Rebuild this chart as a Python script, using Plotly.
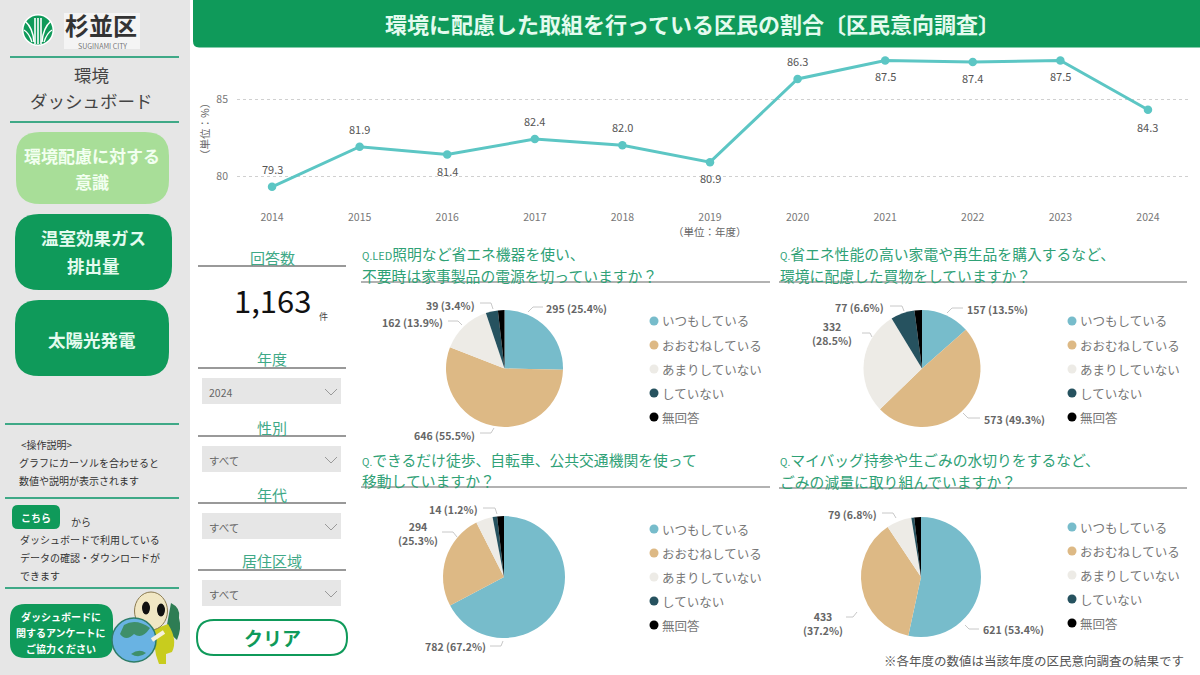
"""plot.py - Suginami environment dashboard, survey page."""
import plotly.graph_objects as go

W, H = 1200, 675
FONT = "Noto Sans CJK JP"

COL = {
    "green": "#0F9A5A", "pale": "#A8DE98", "rule": "#3FA987", "side": "#E6E6E6",
    "grey": "#999999", "ink": "#444444", "muted": "#777777", "q": "#2FA176",
    "line": "#5CC6C4", "btn_text": "#E4FBEF",
}

# line chart
YEARS = [2014, 2015, 2016, 2017, 2018, 2019, 2020, 2021, 2022, 2023, 2024]
RATE = [79.3, 81.9, 81.4, 82.4, 82.0, 80.9, 86.3, 87.5, 87.4, 87.5, 84.3]
RATE_SHIFT = [18, 18, -17, 18, 18, -16, 18, -16, -16, -16, -17]

# pies
ANSWERS = ["いつもしている", "おおむねしている", "あまりしていない", "していない", "無回答"]
SLICE_COLORS = ["#77BCCB", "#DDB985", "#EDEBE6", "#26525F", "#000000"]
Q1_COUNT = [295, 646, 162, 39, 21]
Q1_PCT = [25.4, 55.5, 13.9, 3.4, 1.8]
Q2_COUNT = [157, 573, 332, 77, 24]
Q2_PCT = [13.5, 49.3, 28.5, 6.6, 2.1]
Q3_COUNT = [782, 294, 52, 14, 21]
Q3_PCT = [67.2, 25.3, 4.5, 1.2, 1.8]
Q4_COUNT = [621, 433, 79, 9, 21]
Q4_PCT = [53.4, 37.2, 6.8, 0.8, 1.8]

fig = go.Figure()
shapes, notes = [], []


def px(x):
    return x / W


def py(y):
    return 1 - y / H


def text(x, y, s, size=12, color=COL["ink"], anchor="left", angle=0):
    notes.append(dict(
        x=px(x), y=py(y), xref="paper", yref="paper", text=s, showarrow=False,
        xanchor=anchor, yanchor="middle", textangle=angle, borderpad=0,
        font=dict(family=FONT, size=size, color=color)))


def rule(x0, x1, y, color=COL["rule"], width=2):
    shapes.append(dict(type="line", xref="paper", yref="paper", x0=px(x0), x1=px(x1),
                       y0=py(y), y1=py(y), line=dict(color=color, width=width)))


def box(x0, y0, x1, y1, color, line=None, lw=0):
    shapes.append(dict(type="rect", xref="paper", yref="paper", x0=px(x0), x1=px(x1),
                       y0=py(y0), y1=py(y1), fillcolor=color,
                       line=dict(color=line or color, width=lw)))


def dot(cx, cy, rx, ry, color, line=None, lw=0):
    shapes.append(dict(type="circle", xref="paper", yref="paper",
                       x0=px(cx - rx), x1=px(cx + rx), y0=py(cy - ry), y1=py(cy + ry),
                       fillcolor=color, line=dict(color=line or color, width=lw)))


def path(cmds, fill=None, line=None, lw=0):
    # cmds: ("M", x, y) / ("L", x, y) / ("Q", cx, cy, x, y) / ("Z",) in page pixels
    parts = []
    for c in cmds:
        vals = c[1:]
        pts = [f"{px(vals[i])},{py(vals[i + 1])}" for i in range(0, len(vals), 2)]
        parts.append(c[0] + " " + " ".join(pts))
    shapes.append(dict(type="path", xref="paper", yref="paper", path=" ".join(parts),
                       fillcolor=fill or "rgba(0,0,0,0)",
                       line=dict(color=line or "rgba(0,0,0,0)", width=lw)))


def round_box(x0, y0, x1, y1, r, color, line=None, lw=0):
    path([("M", x0 + r, y0), ("L", x1 - r, y0), ("Q", x1, y0, x1, y0 + r),
          ("L", x1, y1 - r), ("Q", x1, y1, x1 - r, y1), ("L", x0 + r, y1),
          ("Q", x0, y1, x0, y1 - r), ("L", x0, y0 + r), ("Q", x0, y0, x0 + r, y0), ("Z",)],
         fill=color, line=line, lw=lw)


# ---------------------------------------------------------------- sidebar
box(0, 0, 190, H, COL["side"])
box(64, 13, 140, 49, "#F4F4F4")
dot(38, 30, 16, 16, "#FFFFFF")
dot(38, 30, 14.5, 14.5, COL["green"])
for dx in (-3, 0, 3):
    path([("M", 38 + dx, 44), ("L", 38 + dx, 18)], line="#FFFFFF", lw=1.6)
for sx in (-1, 1):
    path([("M", 38 + 4 * sx, 42), ("Q", 38 + 5 * sx, 28, 38 + 13 * sx, 21)], line="#FFFFFF", lw=1.6)
    path([("M", 38 + 6 * sx, 42), ("Q", 38 + 9 * sx, 33, 38 + 14 * sx, 30)], line="#FFFFFF", lw=1.4)
text(101, 24, "<b>杉並区</b>", 24, "#333333", "center")
text(102, 46, "SUGINAMI CITY", 7, "#777777", "center")

rule(10, 179, 57)
rule(10, 179, 122)
text(91, 74, "環境", 17.5, COL["ink"], "center")
text(91, 100, "ダッシュボード", 17.5, COL["ink"], "center")

round_box(16, 132, 169, 204, 24, COL["pale"])
text(92, 155, "<b>環境配慮に対する</b>", 17, "#F2FFF0", "center")
text(92, 181, "<b>意識</b>", 17, "#F2FFF0", "center")
round_box(15, 214, 172, 290, 24, COL["green"])
text(93, 238, "<b>温室効果ガス</b>", 17.5, COL["btn_text"], "center")
text(93, 265, "<b>排出量</b>", 17.5, COL["btn_text"], "center")
round_box(15, 300, 169, 376, 24, COL["green"])
text(92, 339, "<b>太陽光発電</b>", 17.5, COL["btn_text"], "center")

rule(5, 179, 424)
rule(5, 179, 498)
rule(5, 179, 588)
text(20, 444, "<操作説明>", 10, "#333333")
text(18, 462, "グラフにカーソルを合わせると", 10, "#333333")
text(18, 480, "数値や説明が表示されます", 10, "#333333")
round_box(12, 505, 60, 529, 6, COL["green"])
text(36, 517, "<b>こちら</b>", 10, "#FFFFFF", "center")
text(70, 521, "から", 10, "#333333")
text(19, 539, "ダッシュボードで利用している", 10, "#333333")
text(19, 557, "データの確認・ダウンロードが", 10, "#333333")
text(19, 575, "できます", 10, "#333333")

round_box(10, 604, 113, 658, 15, COL["green"])
text(61, 616, "<b>ダッシュボードに</b>", 10, "#FFFFFF", "center")
text(61, 632, "<b>関するアンケートに</b>", 10, "#FFFFFF", "center")
text(61, 648, "<b>ご協力ください</b>", 10, "#FFFFFF", "center")

# mascot and globe
path([("M", 171, 603), ("Q", 181, 608, 179, 618), ("Q", 182, 628, 177, 640), ("L", 166, 630), ("Z",)],
     fill="#2E7D54")
path([("M", 152, 630), ("L", 168, 624), ("Q", 178, 640, 172, 652), ("L", 166, 654), ("L", 166, 664),
      ("L", 159, 664), ("L", 156, 655), ("Z",)], fill="#C8CC1E")
dot(151, 611, 16.5, 19, "#F1E7C4", line="#8A7A50", lw=1)
dot(146, 608, 4, 6.5, "#111111")
dot(161, 610, 4, 6.5, "#111111")
dot(134, 640, 22, 22, "#69B3E3", line="#2F7D68", lw=1.5)
path([("M", 124, 625), ("Q", 136, 618, 150, 628), ("Q", 142, 640, 134, 634), ("Q", 126, 642, 120, 634), ("Z",)],
     fill="#3F8F6A")
path([("M", 131, 654), ("Q", 139, 648, 146, 653), ("Q", 139, 659, 131, 654), ("Z",)], fill="#3F8F6A")
path([("M", 152, 640), ("L", 164, 632)], line="#F6F1DC", lw=4)

# ---------------------------------------------------------------- header
path([("M", 193, 0), ("L", W, 0), ("L", W, 47.5), ("L", 199, 47.5), ("Q", 193, 47.5, 193, 41), ("Z",)],
     fill=COL["green"])
text(692, 23, "<b>環境に配慮した取組を行っている区民の割合〔区民意向調査〕</b>", 22, COL["btn_text"], "center")

# ---------------------------------------------------------------- filter column
text(272, 257, "回答数", 15, COL["rule"], "center")
rule(198, 346, 266, COL["grey"])
text(272, 299, "1,163", 31, "#111111", "center")
text(323, 316, "件", 9, "#444444", "center")
FILTERS = [("年度", "2024", 359, 368, 378), ("性別", "すべて", 427, 436, 446),
           ("年代", "すべて", 494, 503, 513), ("居住区域", "すべて", 560, 570, 580)]
for label, val, ty, ly, by in FILTERS:
    text(272, ty, label, 15, COL["rule"], "center")
    rule(198, 346, ly, COL["grey"])
    box(202, by, 341, by + 26, COL["side"])
    text(208, by + 14, val, 10.5, "#666666")
    path([("M", 325, by + 11), ("L", 331, by + 17), ("L", 337, by + 11)], line="#999999", lw=1)
round_box(197, 620, 347, 655, 17, "#FFFFFF", line=COL["green"], lw=2)
text(272, 637, "<b>クリア</b>", 19, COL["green"], "center")

# ---------------------------------------------------------------- line chart
fig.add_trace(go.Scatter(
    x=YEARS, y=RATE, mode="lines+markers", xaxis="x", yaxis="y", showlegend=False,
    line=dict(color=COL["line"], width=3), marker=dict(color=COL["line"], size=8.5)))
for yr, v, sh in zip(YEARS, RATE, RATE_SHIFT):
    notes.append(dict(x=yr, y=v, xref="x", yref="y", text=f"{v:.1f}", showarrow=False, yshift=sh,
                      font=dict(family=FONT, size=11, color="#555555")))
text(204, 129, "（単位：%）", 10.5, "#666666", "center", angle=-90)
text(710, 231, "（単位：年度）", 10.5, "#666666", "center")

# ---------------------------------------------------------------- questions
Q_MARK = '<span style="font-size:10px">Q.</span>'
QUESTIONS = [
    (361, 253, 275, 282, 770, Q_MARK + '<span style="font-size:11px">LED</span>照明など省エネ機器を使い、',
     "不要時は家事製品の電源を切っていますか？"),
    (779, 253, 275, 282, 1187, Q_MARK + "省エネ性能の高い家電や再生品を購入するなど、", "環境に配慮した買物をしていますか？"),
    (361, 459, 480, 487, 770, Q_MARK + "できるだけ徒歩、自転車、公共交通機関を使って", "移動していますか？"),
    (779, 459, 481, 488, 1187, Q_MARK + "マイバッグ持参や生ごみの水切りをするなど、", "ごみの減量に取り組んでいますか？"),
]
for x0, y1, y2, ly, x1, l1, l2 in QUESTIONS:
    text(x0, y1, l1, 14.8, COL["q"])
    text(x0, y2, l2, 14.8, COL["q"])
    rule(x0, x1, ly, COL["grey"], 1.5)

# center x, center y, radius, legend dot x, legend first y, legend step
PIES = [
    (Q1_COUNT, 504.5, 368.5, 58.5, 654, 321, 24),
    (Q2_COUNT, 922, 368.5, 58.5, 1072, 321, 24),
    (Q3_COUNT, 504, 577, 61, 654, 529, 24),
    (Q4_COUNT, 921, 577, 60, 1072, 527, 24),
]
for counts, cx, cy, r, lx, ly, step in PIES:
    fig.add_trace(go.Pie(
        labels=ANSWERS, values=counts, sort=False, direction="clockwise", rotation=0,
        marker=dict(colors=SLICE_COLORS, line=dict(width=0)), textinfo="none", showlegend=False,
        domain=dict(x=[px(cx - r), px(cx + r)], y=[py(cy + r), py(cy - r)])))
    for i, (name, c) in enumerate(zip(ANSWERS, SLICE_COLORS)):
        dot(lx, ly + i * step, 4.5, 4.5, c)
        text(lx + 7, ly + i * step, name, 12.5, COL["muted"])

# slice labels: counts, pct, slice index, text x, y, anchor, two lines?, leader points
SLICE_LABELS = [
    (Q1_COUNT, Q1_PCT, 0, 545, 308, "left", False, [(528, 312), (533, 307), (543, 307)]),
    (Q1_COUNT, Q1_PCT, 1, 476, 435, "right", False, [(480, 433), (491, 433), (494, 428)]),
    (Q1_COUNT, Q1_PCT, 2, 444, 322, "right", False, [(448, 321), (458, 321), (462, 325)]),
    (Q1_COUNT, Q1_PCT, 3, 476, 305, "right", False, [(480, 303), (491, 303), (493, 309)]),
    (Q2_COUNT, Q2_PCT, 0, 966, 309, "left", False, [(947, 313), (952, 308), (963, 308)]),
    (Q2_COUNT, Q2_PCT, 1, 983, 419, "left", False, [(963, 413), (968, 418), (980, 418)]),
    (Q2_COUNT, Q2_PCT, 2, 832, 333, "center", True, [(862, 333), (870, 333), (872, 337)]),
    (Q2_COUNT, Q2_PCT, 3, 885, 307, "right", False, [(890, 306), (902, 306), (904, 311)]),
    (Q3_COUNT, Q3_PCT, 0, 487, 646, "right", False, [(490, 646), (501, 646), (503, 641)]),
    (Q3_COUNT, Q3_PCT, 1, 418, 533, "center", True, [(442, 532), (453, 532), (457, 537)]),
    (Q3_COUNT, Q3_PCT, 3, 479, 509, "right", False, [(483, 508), (495, 508), (497, 514)]),
    (Q4_COUNT, Q4_PCT, 0, 982, 629, "left", False, [(965, 625), (969, 629), (979, 629)]),
    (Q4_COUNT, Q4_PCT, 1, 823, 623, "center", True, [(846, 617), (853, 617), (857, 612)]),
    (Q4_COUNT, Q4_PCT, 2, 878, 514, "right", False, [(882, 513), (893, 513), (896, 518)]),
]
for counts, pct, i, tx, ty, anchor, two, pts in SLICE_LABELS:
    sep = "<br>" if two else " "
    text(tx, ty, f"<b>{counts[i]}{sep}({pct[i]}%)</b>", 10.5, "#666666", anchor)
    path([("M", *pts[0])] + [("L", *p) for p in pts[1:]], line="#C8C8C8", lw=1)

text(1185, 660, "※各年度の数値は当該年度の区民意向調査の結果です", 12.5, "#555555", "right")

fig.update_layout(
    width=W, height=H, margin=dict(l=0, r=0, t=0, b=0, pad=0),
    paper_bgcolor="#FFFFFF", plot_bgcolor="rgba(0,0,0,0)", hovermode="closest",
    font=dict(family=FONT), shapes=shapes, annotations=notes,
    xaxis=dict(domain=[px(237), px(1190)], range=[2013.6, 2024.48], tickmode="array",
               tickvals=YEARS, ticktext=[str(v) for v in YEARS], showgrid=False, zeroline=False,
               showline=False, ticks="", ticklen=0, ticklabelstandoff=4,
               tickfont=dict(size=10.5, color="#777777"), anchor="y"),
    yaxis=dict(domain=[py(205), py(48)], range=[78.12, 88.31], tickvals=[80, 85],
               showgrid=True, gridcolor="#D0D0D0", griddash="dot", gridwidth=1, zeroline=False,
               showline=False, ticklabelstandoff=8, tickfont=dict(size=10.5, color="#777777"),
               anchor="x"),
)

fig.write_html("out.html", config=dict(displayModeBar=False),
               post_script="document.body.style.margin='0';document.body.style.overflow='hidden';")
